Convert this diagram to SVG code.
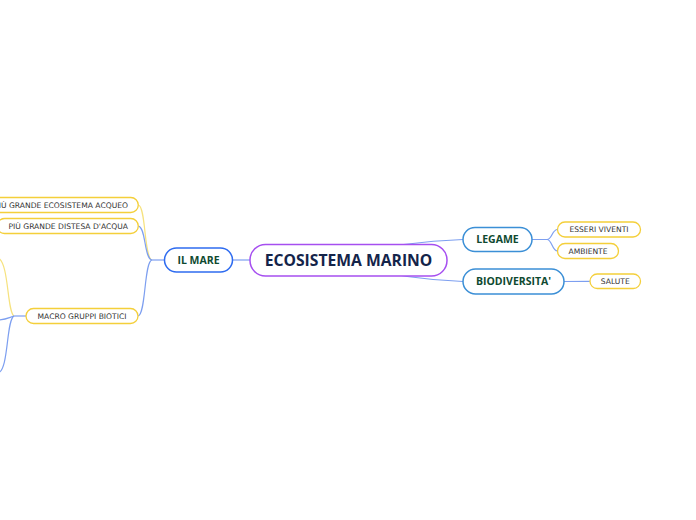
<svg xmlns="http://www.w3.org/2000/svg" width="696" height="520" viewBox="0 0 696 520">
<style>
.bg{fill:#ffffff}
.main{fill:#fff;stroke:#a64ff0;stroke-width:1.5}
.l1{fill:#fff;stroke:#2f6cf0;stroke-width:1.5}
.l1b{fill:#fff;stroke:#3b8fd6;stroke-width:1.5}
.leaf{fill:#fff;stroke:#f4cf3a;stroke-width:1.3}
.tmain{font-family:"Open Sans","Noto Sans",sans-serif;font-weight:bold;font-size:15.7px;fill:#14244a;text-anchor:middle}
.t1{font-family:"Open Sans","Noto Sans",sans-serif;font-weight:bold;font-size:10.5px;fill:#0f4a30;text-anchor:middle}
.tl{font-family:"DejaVu Sans",Verdana,sans-serif;font-size:7.6px;fill:#333;text-anchor:middle}
.cb{fill:none;stroke:#7d9ff0;stroke-width:1.2}
.cy{fill:none;stroke:#f6e27e;stroke-width:1.2}
</style>
<rect class="bg" x="0" y="0" width="696" height="520"/>
<g id="connectors">
<path class="cb" d="M232.7 260 L250 260"/>
<path class="cb" d="M348 255 C385 246 420 241 463 239.5"/>
<path class="cb" d="M348 265 C385 274 420 280 463 281.5"/>
<path class="cb" d="M532 239.5 L547 239.5 C552 239.5 552 229.5 557.5 229.5"/>
<path class="cb" d="M547 239.5 C552 239.5 552 251 557.5 251"/>
<path class="cb" d="M564 281.5 L590 281.3"/>
<path class="cb" d="M164.5 260 L152 260"/>
<path class="cy" d="M152 260 C144 259 146 206 138.3 205"/>
<path class="cb" d="M152 260 C144 259 146 227 138.3 226"/>
<path class="cb" d="M152 260 C144 261 146 315 138 316"/>
<path class="cb" d="M26 316 L14 316"/>
<path class="cy" d="M14 316 C7 312 9 262 -2 258"/>
<path class="cb" d="M14 316 C8 318 5 320 -3 320"/>
<path class="cb" d="M14 316 C6 320 9 370 -2 373"/>
</g>
<g id="n-ecosistema-marino">
<rect class="main" x="250" y="244.5" width="197" height="31.5" rx="15.5"/>
<text class="tmain" x="348.5" y="266.3">ECOSISTEMA MARINO</text>
</g>
<g id="n-il-mare">
<rect class="l1" x="164.5" y="248" width="68" height="24" rx="12"/>
<text class="t1" x="198.5" y="264">IL MARE</text>
</g>
<g id="n-legame">
<rect class="l1b" x="463" y="227.5" width="69" height="24" rx="12"/>
<text class="t1" x="497.5" y="243.3">LEGAME</text>
</g>
<g id="n-biodiversita">
<rect class="l1b" x="463" y="269" width="101" height="25" rx="12.5"/>
<text class="t1" x="513.5" y="285">BIODIVERSITA'</text>
</g>
<g id="n-esseri-viventi">
<rect class="leaf" x="557.5" y="222" width="83" height="15" rx="7.5"/>
<text class="tl" x="599" y="232.4">ESSERI VIVENTI</text>
</g>
<g id="n-ambiente">
<rect class="leaf" x="557.5" y="243.5" width="61" height="15" rx="7.5"/>
<text class="tl" x="588" y="253.9">AMBIENTE</text>
</g>
<g id="n-salute">
<rect class="leaf" x="590" y="274" width="50.5" height="14.5" rx="7.2"/>
<text class="tl" x="615.3" y="284.2">SALUTE</text>
</g>
<g id="n-ecosistema-acqueo">
<rect class="leaf" x="-14" y="197.5" width="152.3" height="15" rx="7.5"/>
<text class="tl" x="128" y="207.9" style="text-anchor:end">PIÙ GRANDE ECOSISTEMA ACQUEO</text>
</g>
<g id="n-distesa-acqua">
<rect class="leaf" x="-3" y="218.5" width="141.3" height="15" rx="7.5"/>
<text class="tl" x="128" y="228.9" style="text-anchor:end">PIÙ GRANDE DISTESA D'ACQUA</text>
</g>
<g id="n-macro-gruppi">
<rect class="leaf" x="26" y="308.5" width="112" height="15" rx="7.5"/>
<text class="tl" x="82" y="318.9">MACRO GRUPPI BIOTICI</text>
</g>
</svg>
